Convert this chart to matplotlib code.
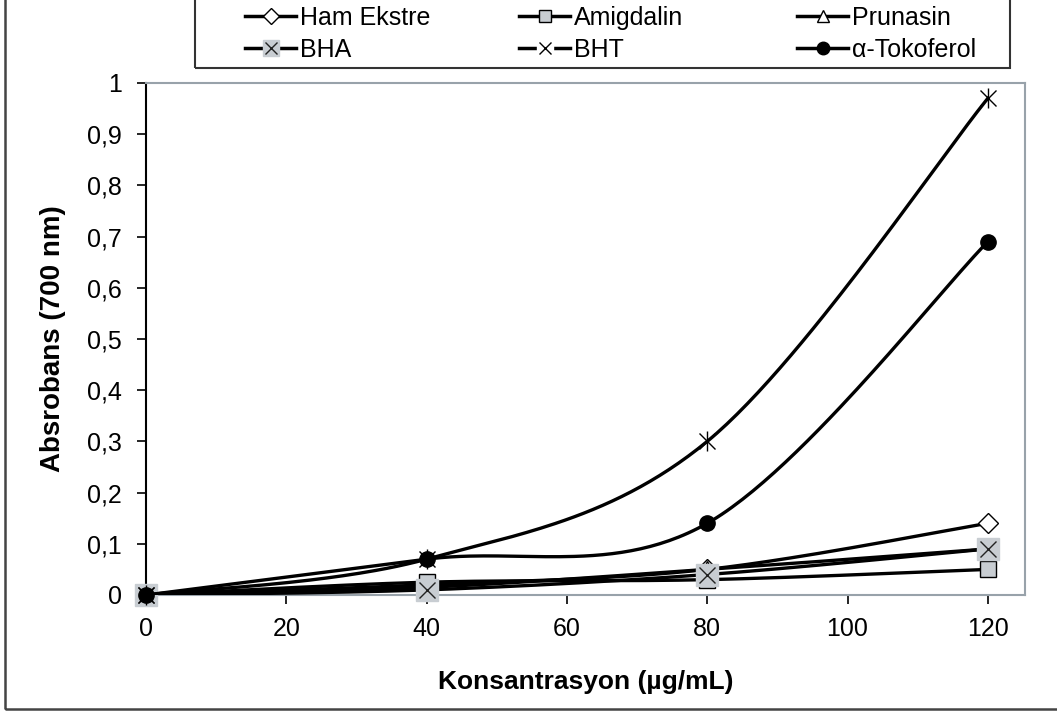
import numpy as np
import matplotlib
matplotlib.use("Agg")
import matplotlib.pyplot as plt
from matplotlib.lines import Line2D
from matplotlib.patches import Rectangle

plt.rcParams["font.family"] = ["Liberation Sans", "DejaVu Sans"]

# data
concentration = [0, 40, 80, 120]
ham_ekstre = [0, 0.02, 0.05, 0.14]
amigdalin = [0, 0.025, 0.03, 0.05]
prunasin = [0, 0.015, 0.05, 0.09]
bha = [0, 0.01, 0.04, 0.09]
bht = [0, 0.07, 0.30, 0.97]
tokoferol = [0, 0.07, 0.14, 0.69]

x_ticks = [0, 20, 40, 60, 80, 100, 120]
y_ticks = [0, 0.1, 0.2, 0.3, 0.4, 0.5, 0.6, 0.7, 0.8, 0.9, 1.0]
y_tick_labels = ["0", "0,1", "0,2", "0,3", "0,4", "0,5", "0,6", "0,7", "0,8", "0,9", "1"]

GRAY_FILL = "#c8cdd2"
FRAME_GRAY = "#98a2aa"


def smooth(xs, ys, n=60):
    # Excel-like smoothed line: Catmull-Rom through points as cubic Beziers
    p = np.column_stack([xs, ys]).astype(float)
    p_ext = np.vstack([p[0], p, p[-1]])
    t = np.linspace(0, 1, n)[:, None]
    out = []
    for i in range(len(p) - 1):
        p0, p1, p2, p3 = p_ext[i], p_ext[i + 1], p_ext[i + 2], p_ext[i + 3]
        c1 = p1 + (p2 - p0) / 6.0
        c2 = p2 - (p3 - p1) / 6.0
        seg = ((1 - t) ** 3) * p1 + 3 * ((1 - t) ** 2) * t * c1 + 3 * (1 - t) * t**2 * c2 + t**3 * p2
        out.append(seg if i == 0 else seg[1:])
    seg = np.vstack(out)
    return seg[:, 0], seg[:, 1]


fig = plt.figure(figsize=(10.57, 7.11), dpi=100)
ax = fig.add_axes([146 / 1057, 1 - 595 / 711, (1025 - 146) / 1057, (595 - 83) / 711])

lw = 2.4
series = [
    (ham_ekstre, dict(marker="D", markersize=10, markerfacecolor="white", markeredgecolor="black", markeredgewidth=1.0)),
    (amigdalin, dict(marker="s", markersize=12, markerfacecolor=GRAY_FILL, markeredgecolor="black", markeredgewidth=1.0)),
    (prunasin, dict(marker="^", markersize=11, markerfacecolor="white", markeredgecolor="black", markeredgewidth=1.0)),
]
z = 3
for ys, mk in series:
    sx, sy = smooth(concentration, ys)
    ax.plot(sx, sy, color="black", lw=lw, zorder=z)
    ax.plot(concentration, ys, linestyle="none", zorder=z + 0.5, clip_on=False, **mk)
    z += 1

# BHA: x marker on a grey square
sx, sy = smooth(concentration, bha)
ax.plot(sx, sy, color="black", lw=lw, zorder=z)
ax.plot(concentration, bha, linestyle="none", marker="s", markersize=16, markerfacecolor=GRAY_FILL,
        markeredgecolor=GRAY_FILL, zorder=z + 0.4, clip_on=False)
ax.plot(concentration, bha, linestyle="none", marker="x", markersize=12, markeredgecolor="#222222",
        markeredgewidth=1.0, zorder=z + 0.5, clip_on=False)
z += 1

# BHT: star marker
sx, sy = smooth(concentration, bht)
ax.plot(sx, sy, color="black", lw=lw, zorder=z)
ax.plot(concentration, bht, linestyle="none", marker="x", markersize=12, markeredgecolor="black",
        markeredgewidth=1.0, zorder=z + 0.5, clip_on=False)
ax.plot(concentration, bht, linestyle="none", marker="|", markersize=14, markeredgecolor="black",
        markeredgewidth=1.0, zorder=z + 0.5, clip_on=False)
z += 1

# alpha-tocopherol
sx, sy = smooth(concentration, tokoferol)
ax.plot(sx, sy, color="black", lw=lw, zorder=z)
ax.plot(concentration, tokoferol, linestyle="none", marker="o", markersize=11, markerfacecolor="black",
        markeredgecolor="black", zorder=z + 0.5, clip_on=False)

ax.set_xlim(0, 125.3)
ax.set_ylim(0, 1)
ax.set_xticks(x_ticks)
ax.set_xticklabels([str(v) for v in x_ticks])
ax.set_yticks(y_ticks)
ax.set_yticklabels(y_tick_labels)
ax.tick_params(direction="out", length=6.5, width=1.2, labelsize=18, colors="black")
ax.tick_params(axis="y", pad=11)
ax.tick_params(axis="x", pad=9)
for side in ["top", "right", "bottom"]:
    ax.spines[side].set_color(FRAME_GRAY)
    ax.spines[side].set_linewidth(1.5)
ax.spines["left"].set_color("black")
ax.spines["left"].set_linewidth(1.5)
ax.set_xlabel("Konsantrasyon (µg/mL)", fontsize=19, fontweight="bold")
ax.set_ylabel("Absrobans (700 nm)", fontsize=20, fontweight="bold")
ax.xaxis.set_label_coords(0.5, -(670 - 595) / 512, transform=ax.transAxes)
ax.yaxis.set_label_coords(-(146 - 66) / 879, (595 - 339) / 512, transform=ax.transAxes)

# legend: three columns of two entries
h_ham = Line2D([], [], color="black", lw=2.5, marker="D", markersize=8, markerfacecolor="white", markeredgecolor="black")
h_ami = Line2D([], [], color="black", lw=2.5, marker="s", markersize=9, markerfacecolor=GRAY_FILL, markeredgecolor="black")
h_pru = Line2D([], [], color="black", lw=2.5, marker="^", markersize=9, markerfacecolor="white", markeredgecolor="black")
h_bha = (Line2D([], [], color="black", lw=2.5, marker="s", markersize=12, markerfacecolor=GRAY_FILL, markeredgecolor=GRAY_FILL),
         Line2D([], [], linestyle="none", marker="x", markersize=9, markeredgecolor="#222222"))
h_bht = (Line2D([], [], color="black", lw=2.5, marker="s", markersize=12, markerfacecolor="white", markeredgecolor="white"),
         Line2D([], [], linestyle="none", marker="x", markersize=8, markeredgecolor="black"))
h_tok = Line2D([], [], color="black", lw=2.5, marker="o", markersize=9, markerfacecolor="black", markeredgecolor="black")

columns = [
    ([h_ham, h_bha], ["Ham Ekstre", "BHA"], 245),
    ([h_ami, h_bht], ["Amigdalin", "BHT"], 519),
    ([h_pru, h_tok], ["Prunasin", "α-Tokoferol"], 797),
]
for handles, labels, xpix in columns:
    fig.legend(handles, labels, loc="upper left", bbox_to_anchor=(xpix / 1057, 1 - 6 / 711),
               frameon=False, fontsize=18, handlelength=2.05, handletextpad=0.15, labelspacing=0.32,
               borderpad=0.0, borderaxespad=0.0)

fig.patches.append(Rectangle((195 / 1057, 1 - 68 / 711), (1010 - 195) / 1057, 0.2,
                             transform=fig.transFigure, fill=False, edgecolor="#333333", lw=1.5))
fig.patches.append(Rectangle((5 / 1057, 2 / 711), 1.2, 1.2, transform=fig.transFigure,
                             fill=False, edgecolor="#444444", lw=1.8))

fig.savefig("out.png", dpi=100)
